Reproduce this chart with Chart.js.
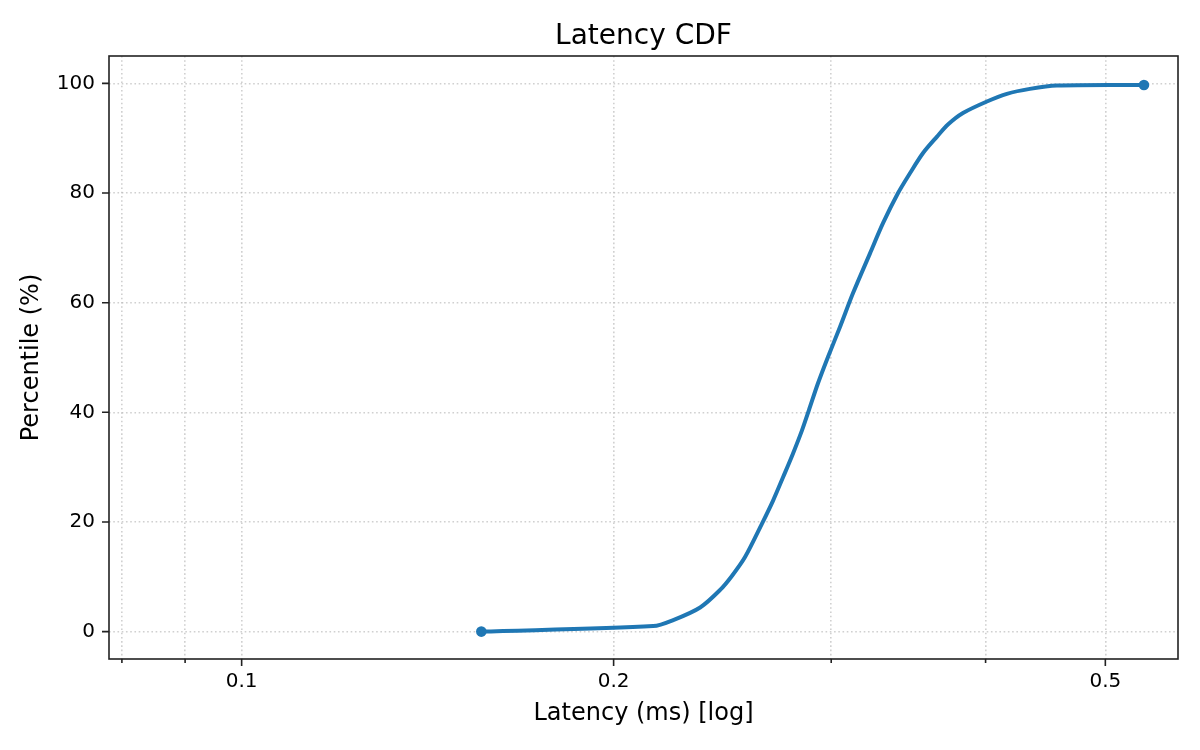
<!DOCTYPE html>
<html lang="en">
<head>
    <meta charset="UTF-8">
    <title>Latency CDF</title>
    <script src="https://cdn.jsdelivr.net/npm/chart.js"></script>
    <style>
        html, body { margin: 0; padding: 0; background: #fff; }
    </style>
</head>
<body>
<canvas id="cdfChart" width="1200" height="750"></canvas>

<script>
    // latency values (ms) and percentile
    const latencyMs = [0.1563, 0.2153, 0.2235, 0.2350, 0.2439, 0.2494, 0.2555, 0.2637, 0.2692, 0.2743,
        0.2794, 0.2841, 0.2878, 0.2927, 0.2982, 0.3050, 0.3124, 0.3225, 0.3304, 0.3398,
        0.3474, 0.3560, 0.3654, 0.3729, 0.3835, 0.4010, 0.4162, 0.4344, 0.4569, 0.5373];
    const percentile = [0, 1.0, 2.1, 4.4, 7.6, 10.2, 13.6, 19.7, 23.9, 28.2,
        32.5, 36.7, 40.4, 45.3, 50.1, 55.6, 61.7, 69.0, 74.5, 80.0,
        83.6, 87.3, 90.3, 92.5, 94.6, 96.7, 98.1, 99.0, 99.6, 99.7];

    const xMajorTicks = [0.1, 0.2, 0.5];
    const xMinorTicks = [0.08, 0.09, 0.3, 0.4];
    const yTicks = [0, 20, 40, 60, 80, 100];

    const FONT = "'DejaVu Sans', sans-serif";
    const BLUE = '#1f77b4';
    const GRID = 'rgba(176,176,176,0.6)';

    const points = latencyMs.map((v, i) => ({x: v, y: percentile[i]}));

    // tick marks, frame and title, matplotlib style
    const framePlugin = {
        id: 'frame',
        afterDraw(chart) {
            const ctx = chart.ctx;
            const area = chart.chartArea;
            const xs = chart.scales.x;
            const ys = chart.scales.y;
            ctx.save();
            ctx.strokeStyle = '#222';
            ctx.lineWidth = 1.6;
            ctx.beginPath();
            xs.ticks.forEach(t => {
                const px = xs.getPixelForValue(t.value);
                const len = xMajorTicks.includes(t.value) ? 7 : 4;
                ctx.moveTo(px, area.bottom);
                ctx.lineTo(px, area.bottom + len);
            });
            ys.ticks.forEach(t => {
                const py = ys.getPixelForValue(t.value);
                ctx.moveTo(area.left, py);
                ctx.lineTo(area.left - 7, py);
            });
            ctx.stroke();
            ctx.strokeRect(area.left, area.top, area.right - area.left, area.bottom - area.top);

            ctx.fillStyle = '#000';
            ctx.font = '28px ' + FONT;
            ctx.textAlign = 'center';
            ctx.textBaseline = 'alphabetic';
            ctx.fillText('Latency CDF', (area.left + area.right) / 2, 44);
            ctx.restore();
        }
    };

    const ctx = document.getElementById('cdfChart').getContext('2d');
    const cdfChart = new Chart(ctx, {
        type: 'line',
        data: {
            datasets: [{
                label: 'CDF',
                data: points,
                borderColor: BLUE,
                backgroundColor: BLUE,
                borderWidth: 4,
                tension: 0.3,
                borderJoinStyle: 'round',
                pointRadius: c => (c.dataIndex === 0 || c.dataIndex === points.length - 1) ? 5.3 : 0,
                pointBackgroundColor: BLUE,
                pointBorderWidth: 0,
                fill: false
            }]
        },
        options: {
            responsive: false,
            animation: false,
            devicePixelRatio: 1,
            layout: {padding: {top: 56, right: 22, left: 0, bottom: 0}},
            plugins: {
                legend: {display: false},
                title: {display: false},
                tooltip: {enabled: false}
            },
            scales: {
                x: {
                    type: 'logarithmic',
                    min: 0.0781,
                    max: 0.5725,
                    afterBuildTicks: scale => {
                        scale.ticks = xMinorTicks.concat(xMajorTicks).sort((a, b) => a - b).map(v => ({value: v}));
                    },
                    afterFit: scale => { scale.height = 91; },
                    grid: {color: GRID, lineWidth: 1.6, drawTicks: false},
                    border: {display: false, dash: [1.6, 2.64]},
                    ticks: {
                        autoSkip: false,
                        maxRotation: 0,
                        padding: 11,
                        color: '#000',
                        font: {family: FONT, size: 20},
                        callback: value => xMajorTicks.includes(value) ? String(value) : ''
                    },
                    title: {
                        display: true,
                        text: 'Latency (ms) [log]',
                        color: '#000',
                        font: {family: FONT, size: 24},
                        padding: {top: 0, bottom: 22}
                    }
                },
                y: {
                    min: -5,
                    max: 105,
                    afterBuildTicks: scale => {
                        scale.ticks = yTicks.map(v => ({value: v}));
                    },
                    afterFit: scale => { scale.width = 109; },
                    grid: {color: GRID, lineWidth: 1.6, drawTicks: false},
                    border: {display: false, dash: [1.6, 2.64]},
                    ticks: {
                        padding: 14,
                        color: '#000',
                        font: {family: FONT, size: 20}
                    },
                    title: {
                        display: true,
                        text: 'Percentile (%)',
                        color: '#000',
                        font: {family: FONT, size: 24},
                        padding: {top: 17.5, bottom: 0}
                    }
                }
            }
        },
        plugins: [framePlugin]
    });
</script>
</body>
</html>
